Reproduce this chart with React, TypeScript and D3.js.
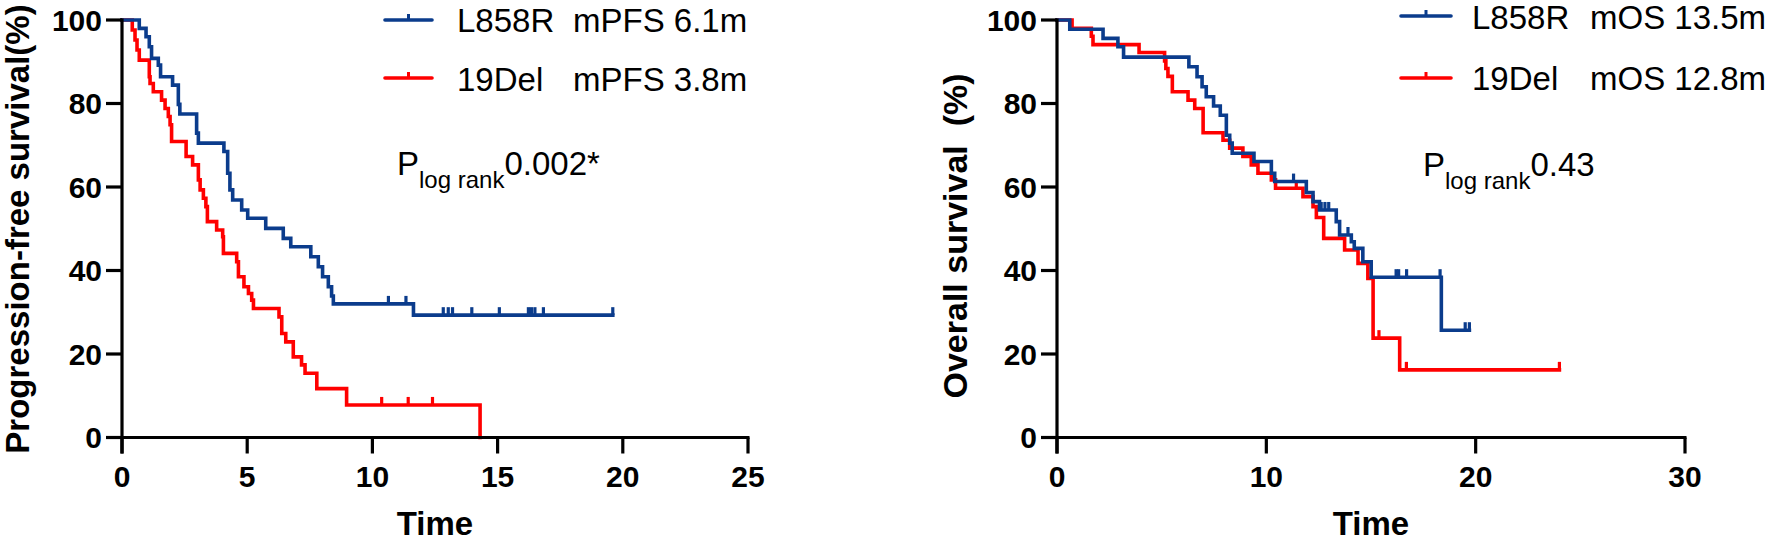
import React from "react";
import * as d3 from "d3";

// ---------- DATA ----------
// PFS panel (left)
const pfsL858RTimes = [0.69, 0.96, 1.09, 1.18, 1.45, 1.54, 2.02, 2.25, 2.31, 2.98, 3.05, 4.07, 4.22, 4.31, 4.42, 4.78, 5.02, 5.74, 6.44, 6.74, 7.54, 7.84, 8.01, 8.24, 8.37, 8.44, 11.64];
const pfsL858RSurv = [98.0, 96.0, 93.6, 90.8, 89.2, 86.4, 84.4, 79.8, 77.5, 72.9, 70.5, 68.5, 63.3, 59.3, 56.9, 54.5, 52.5, 50.1, 47.7, 45.7, 43.3, 40.9, 38.5, 36.1, 33.9, 32.0, 29.3];
const pfsL858REnd = 19.6;
const pfsL858RCensor = [10.64, 11.34, 12.83, 13.03, 13.2, 13.97, 15.07, 16.23, 16.35, 16.49, 16.83, 19.6];

const pfs19DelTimes = [0.41, 0.52, 0.6, 0.69, 1.09, 1.12, 1.25, 1.58, 1.72, 1.85, 1.92, 1.98, 2.56, 2.82, 3.05, 3.12, 3.25, 3.35, 3.41, 3.78, 4.02, 4.05, 4.58, 4.65, 4.87, 5.05, 5.18, 5.25, 6.27, 6.38, 6.54, 6.84, 7.17, 7.31, 7.78, 8.97, 14.3];
const pfs19DelSurv = [97.6, 95.2, 92.8, 90.4, 86.4, 84.8, 82.8, 80.8, 78.8, 76.9, 74.9, 70.9, 67.3, 65.3, 61.7, 59.3, 57.3, 55.3, 51.7, 49.7, 48.1, 44.1, 42.1, 38.5, 36.1, 34.5, 32.9, 30.9, 28.9, 24.9, 22.9, 19.3, 17.4, 15.4, 11.7, 7.8, 0];
const pfs19DelEnd = 14.3;
const pfs19DelCensor = [10.37, 11.43, 12.4];

// OS panel (right)
const osL858RTimes = [0.61, 2.2, 2.91, 3.18, 6.3, 6.69, 6.93, 7.13, 7.48, 7.8, 8.09, 8.25, 8.37, 9.41, 10.24, 10.4, 11.91, 12.23, 12.54, 13.34, 13.5, 14.06, 14.2, 14.61, 15.01, 18.36];
const osL858RSurv = [97.8, 95.6, 93.6, 91.1, 88.8, 86.4, 84.0, 81.6, 79.4, 77.2, 72.4, 70.5, 68.1, 66.1, 63.3, 61.3, 58.7, 56.5, 54.5, 51.7, 48.5, 46.9, 45.3, 42.1, 38.4, 25.7];
const osL858REnd = 19.7;
const osL858RCensor = [11.3, 12.62, 12.8, 12.98, 13.9, 16.2, 16.32, 16.7, 18.3, 19.5, 19.7];

const os19DelTimes = [0.72, 1.64, 1.72, 3.92, 5.14, 5.2, 5.3, 5.51, 6.26, 6.58, 6.98, 7.93, 8.25, 8.88, 9.28, 9.6, 10.24, 10.44, 11.75, 12.23, 12.39, 12.74, 13.74, 14.38, 14.85, 15.1, 16.37];
const os19DelSurv = [98.0, 96.1, 94.1, 92.2, 90.2, 88.4, 86.5, 82.8, 80.8, 78.8, 73.0, 71.2, 69.3, 67.3, 65.3, 63.3, 61.7, 59.7, 57.7, 55.3, 52.7, 47.7, 44.9, 41.7, 38.1, 23.8, 16.2];
const os19DelEnd = 24.0;
const os19DelCensor = [11.43, 15.38, 16.69, 24.0];

const yTicks = [0, 20, 40, 60, 80, 100];
const pfsXTicks = [0, 5, 10, 15, 20, 25];
const osXTicks = [0, 10, 20, 30];

const groupNames = ["L858R", "19Del"];
const pfsMedians = ["mPFS 6.1m", "mPFS 3.8m"];
const osMedians = ["mOS 13.5m", "mOS 12.8m"];
const pfsP = "0.002*";
const osP = "0.43";

// ---------- STYLE ----------
const BLUE = "#0B3C8C";
const RED = "#FF0000";
const FONT = "'Liberation Sans', Arial, Helvetica, sans-serif";

type Curve = { times: number[]; surv: number[]; end: number; censor: number[]; color: string };

function survAt(c: Curve, t: number) {
  let s = 100;
  for (let i = 0; i < c.times.length; i++) {
    if (c.times[i] <= t + 1e-9) s = c.surv[i];
  }
  return s;
}

function Panel(props: {
  x0: number; x1: number; xMax: number; xTicks: number[];
  curves: Curve[]; yLabel: string; yLabelX: number; yLabelY: number; yLabelSize: number;
}) {
  const { x0, x1, xMax, xTicks, curves, yLabel, yLabelX, yLabelY, yLabelSize } = props;
  const yBottom = 437.5, yTop = 20;
  const x = d3.scaleLinear().domain([0, xMax]).range([x0, x1]);
  const y = d3.scaleLinear().domain([0, 100]).range([yBottom, yTop]);
  const line = d3.line<[number, number]>().x(d => x(d[0])).y(d => y(d[1])).curve(d3.curveStepAfter);
  const tickLen = 16;
  return (
    <g>
      {curves.map((c, ci) => {
        const pts: [number, number][] = [[0, 100]];
        c.times.forEach((t, i) => pts.push([t, c.surv[i]]));
        const last = pts[pts.length - 1];
        if (last[0] < c.end) pts.push([c.end, last[1]]);
        return (
          <g key={ci}>
            <path d={line(pts) || ""} fill="none" stroke={c.color} strokeWidth={3.6} strokeLinejoin="miter" strokeLinecap="square" />
            {c.censor.map((t, k) => {
              const s = survAt(c, t);
              return <line key={k} x1={x(t)} x2={x(t)} y1={y(s)} y2={y(s) - 8} stroke={c.color} strokeWidth={3.2} />;
            })}
          </g>
        );
      })}
      {/* axes */}
      <line x1={x0} x2={x0} y1={yTop - 1.5} y2={yBottom + tickLen} stroke="#000" strokeWidth={3.2} />
      <line x1={x0 - tickLen} x2={x1 + 1.5} y1={yBottom} y2={yBottom} stroke="#000" strokeWidth={3.2} />
      {yTicks.map(v => (
        <g key={"y" + v}>
          <line x1={x0 - tickLen} x2={x0} y1={y(v)} y2={y(v)} stroke="#000" strokeWidth={3.2} />
          <text x={x0 - 20} y={y(v)} dy="0.36em" textAnchor="end" fontFamily={FONT} fontWeight="bold" fontSize={30}>{v}</text>
        </g>
      ))}
      {xTicks.map(v => (
        <g key={"x" + v}>
          <line x1={x(v)} x2={x(v)} y1={yBottom} y2={yBottom + tickLen} stroke="#000" strokeWidth={3.2} />
          <text x={x(v)} y={487} textAnchor="middle" fontFamily={FONT} fontWeight="bold" fontSize={30}>{v}</text>
        </g>
      ))}
      <text x={(x0 + x1) / 2} y={535} textAnchor="middle" fontFamily={FONT} fontWeight="bold" fontSize={33}>Time</text>
      <text transform={`translate(${yLabelX},${yLabelY}) rotate(-90)`} dy="0.36em" textAnchor="middle" fontFamily={FONT} fontWeight="bold" fontSize={yLabelSize} style={{ whiteSpace: "pre" }}>{yLabel}</text>
    </g>
  );
}

function Legend(props: { lx0: number; lx1: number; rows: number[]; baselines: number[]; nameX: number; medX: number; medians: string[] }) {
  const { lx0, lx1, rows, baselines, nameX, medX, medians } = props;
  const colors = [BLUE, RED];
  return (
    <g>
      {groupNames.map((g, i) => (
        <g key={g}>
          <line x1={lx0} x2={lx1} y1={rows[i]} y2={rows[i]} stroke={colors[i]} strokeWidth={3.6} strokeLinecap="round" />
          <line x1={(lx0 + lx1) / 2} x2={(lx0 + lx1) / 2} y1={rows[i]} y2={rows[i] - 6} stroke={colors[i]} strokeWidth={3} />
          <text x={nameX} y={baselines[i]} fontFamily={FONT} fontSize={33}>{g}</text>
          <text x={medX} y={baselines[i]} fontFamily={FONT} fontSize={33}>{medians[i]}</text>
        </g>
      ))}
    </g>
  );
}

function PText(props: { x: number; y: number; value: string }) {
  return (
    <text x={props.x} y={props.y} fontFamily={FONT} fontSize={33}>
      P<tspan fontSize={24} dy={13}>log rank</tspan><tspan fontSize={33} dy={-13}>{props.value}</tspan>
    </text>
  );
}

export default function App() {
  const pfsCurves: Curve[] = [
    { times: pfs19DelTimes, surv: pfs19DelSurv, end: pfs19DelEnd, censor: pfs19DelCensor, color: RED },
    { times: pfsL858RTimes, surv: pfsL858RSurv, end: pfsL858REnd, censor: pfsL858RCensor, color: BLUE },
  ];
  const osCurves: Curve[] = [
    { times: os19DelTimes, surv: os19DelSurv, end: os19DelEnd, censor: os19DelCensor, color: RED },
    { times: osL858RTimes, surv: osL858RSurv, end: osL858REnd, censor: osL858RCensor, color: BLUE },
  ];
  return (
    <svg width={1772} height={543} viewBox="0 0 1772 543" style={{ position: "absolute", left: 0, top: 0, background: "#fff" }}>
      <rect x={0} y={0} width={1772} height={543} fill="#fff" />
      <Panel x0={122} x1={748} xMax={25} xTicks={pfsXTicks} curves={pfsCurves} yLabel="Progression-free survival(%)" yLabelX={17} yLabelY={229} yLabelSize={33} />
      <Panel x0={1057} x1={1685} xMax={30} xTicks={osXTicks} curves={osCurves} yLabel="Overall survival  (%)" yLabelX={955} yLabelY={236} yLabelSize={34} />
      <Legend lx0={385} lx1={432} rows={[20, 78]} baselines={[31.7, 90.7]} nameX={457} medX={573} medians={pfsMedians} />
      <Legend lx0={1401} lx1={1451} rows={[16, 78]} baselines={[29, 90]} nameX={1472} medX={1590} medians={osMedians} />
      <PText x={397} y={175} value={pfsP} />
      <PText x={1423} y={176} value={osP} />
    </svg>
  );
}
